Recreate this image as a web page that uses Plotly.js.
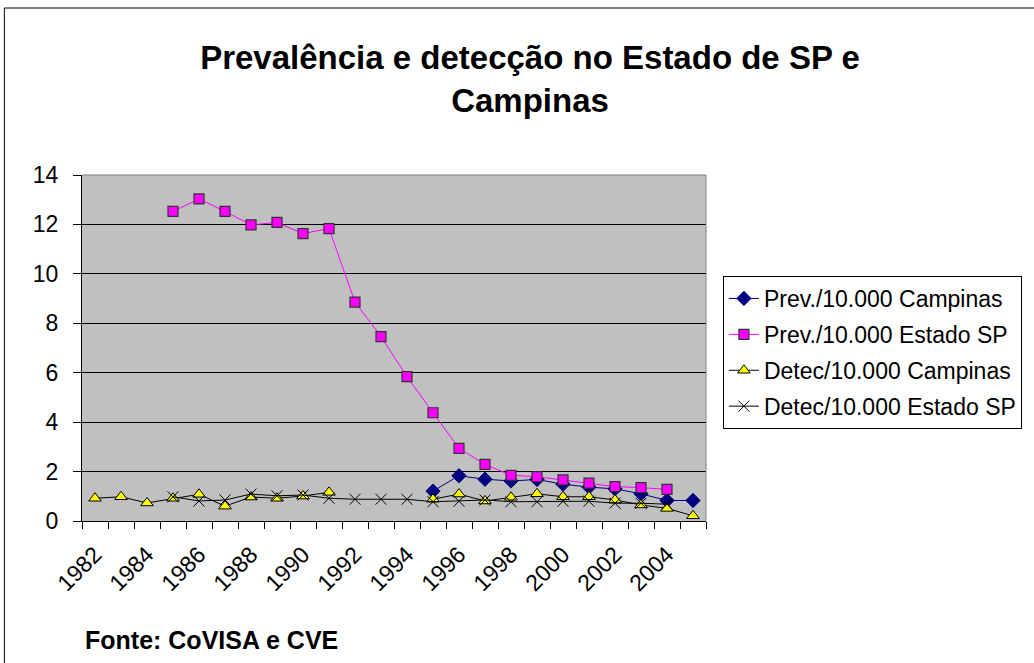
<!DOCTYPE html>
<html>
<head>
<meta charset="utf-8">
<script src="https://cdn.plot.ly/plotly-3.0.1.min.js"></script>
<style>html,body{margin:0;padding:0;background:#fff;}#chart{width:1034px;height:663px;}</style>
</head>
<body>
<div id="chart"></div>
<script>
const years = [1982,1983,1984,1985,1986,1987,1988,1989,1990,1991,1992,1993,1994,1995,1996,1997,1998,1999,2000,2001,2002,2003,2004,2005];
const tickYears = [1982,1984,1986,1988,1990,1992,1994,1996,1998,2000,2002,2004];
const prevCampinas = [null,null,null,null,null,null,null,null,null,null,null,null,null,1.21,1.83,1.69,1.62,1.68,1.49,1.37,1.30,1.10,0.83,0.83];
const prevEstadoSP = [null,null,null,12.53,13.03,12.53,11.98,12.08,11.63,11.83,8.86,7.46,5.84,4.38,2.94,2.29,1.85,1.79,1.66,1.53,1.39,1.35,1.28,null];
const detecCampinas = [0.92,0.98,0.73,0.92,1.08,0.60,0.97,0.92,1.01,1.16,null,null,null,0.88,1.09,0.81,0.96,1.10,0.98,0.98,0.85,0.65,0.51,0.21];
const detecEstadoSP = [null,null,null,0.98,0.81,0.85,1.09,1.02,1.05,0.92,0.88,0.88,0.88,0.78,0.80,0.85,0.78,0.78,0.80,0.80,0.72,0.72,0.68,null];

const F = 'Arial, "Liberation Sans", sans-serif';

const traces = [
  {x: years, y: prevCampinas, name: 'Prev./10.000 Campinas', legendgroup: 'a', mode: 'lines+markers', connectgaps: false,
   line: {color: '#000080', width: 1}, marker: {symbol: 'diamond', size: 11, color: '#000080', line: {color: '#000080', width: 1}}},
  {x: years, y: prevEstadoSP, name: 'Prev./10.000 Estado SP', legendgroup: 'b', mode: 'lines+markers', connectgaps: false,
   line: {color: '#ff00ff', width: 1}, marker: {symbol: 'square', size: 10, color: '#ff00ff', line: {color: '#333333', width: 1.2}}},
  {x: years, y: detecCampinas, name: 'Detec/10.000 Campinas', legendgroup: 'c', mode: 'lines+markers', connectgaps: false,
   line: {color: '#000000', width: 1}, marker: {symbol: 'triangle-up', size: 11, color: '#ffff00', line: {color: '#000000', width: 1}}},
  {x: years, y: detecEstadoSP, name: 'Detec/10.000 Estado SP', legendgroup: 'd', mode: 'lines+markers', connectgaps: false,
   line: {color: '#000000', width: 1}, marker: {symbol: 'x-thin-open', size: 11, color: '#000000', line: {color: '#000000', width: 1}}}
];

const L = 82, R = 709, T = 175, B = 521;
const pw = R - L, ph = B - T;

const layout = {
  width: 1034, height: 663,
  margin: {l: L, r: 1034 - R, t: T, b: 663 - B, pad: 0},
  paper_bgcolor: '#ffffff', plot_bgcolor: '#c0c0c0',
  font: {family: F, color: '#000', size: 23},
  title: {text: '<b>Prevalência e detecção no Estado de SP e<br>Campinas</b>', font: {family: F, size: 33, color: '#000'},
          xref: 'container', x: 530/1034, xanchor: 'center', yref: 'container', y: 1 - 69/663, yanchor: 'top'},
  showlegend: true,
  legend: {x: (726 - L)/pw, xanchor: 'left', y: (B - 276)/ph, yanchor: 'top', bgcolor: '#ffffff',
           bordercolor: '#000', borderwidth: 1, font: {family: F, size: 23, color: '#000'}, tracegroupgap: 3, itemwidth: 30},
  xaxis: {range: [1981.5, 2005.5], tickvals: tickYears, ticktext: tickYears.map(String), tickangle: -45,
          ticks: '', showgrid: false, zeroline: false, showline: true, linecolor: '#000', linewidth: 1,
          tickfont: {family: F, size: 23, color: '#000'}, ticklabelstandoff: 10,
          minor: {tick0: 1981.5, dtick: 1, ticks: 'outside', ticklen: 7, tickcolor: '#000', showgrid: false}},
  yaxis: {range: [0, 14], dtick: 2, tick0: 0, ticks: 'outside', ticklen: 8, tickcolor: '#000',
          showgrid: true, gridcolor: '#000', gridwidth: 1, zeroline: false, showline: true, linecolor: '#000', linewidth: 1,
          tickfont: {family: F, size: 23, color: '#000'}, ticklabelstandoff: 10},
  shapes: [
    {type: 'line', xref: 'paper', yref: 'paper', x0: 0, x1: 1, y0: 1, y1: 1, line: {color: '#808080', width: 1}},
    {type: 'line', xref: 'paper', yref: 'paper', x0: 1, x1: 1, y0: 0, y1: 1, line: {color: '#808080', width: 1}},
    {type: 'line', xref: 'paper', yref: 'paper', x0: (4 - L)/pw, x1: (4 - L)/pw, y0: (B - 8)/ph, y1: (B - 700)/ph, line: {color: '#000', width: 1}},
    {type: 'line', xref: 'paper', yref: 'paper', x0: (4 - L)/pw, x1: (1100 - L)/pw, y0: (B - 8)/ph, y1: (B - 8)/ph, line: {color: '#000', width: 1}}
  ],
  annotations: [
    {text: '<b>Fonte: CoVISA e CVE</b>', xref: 'paper', yref: 'paper', x: (83 - L)/pw, xanchor: 'left',
     y: (B - 640)/ph, yanchor: 'middle', showarrow: false, font: {family: F, size: 25, color: '#000'}}
  ]
};

Plotly.newPlot('chart', traces, layout, {displayModeBar: false, staticPlot: true});
</script>
</body>
</html>
